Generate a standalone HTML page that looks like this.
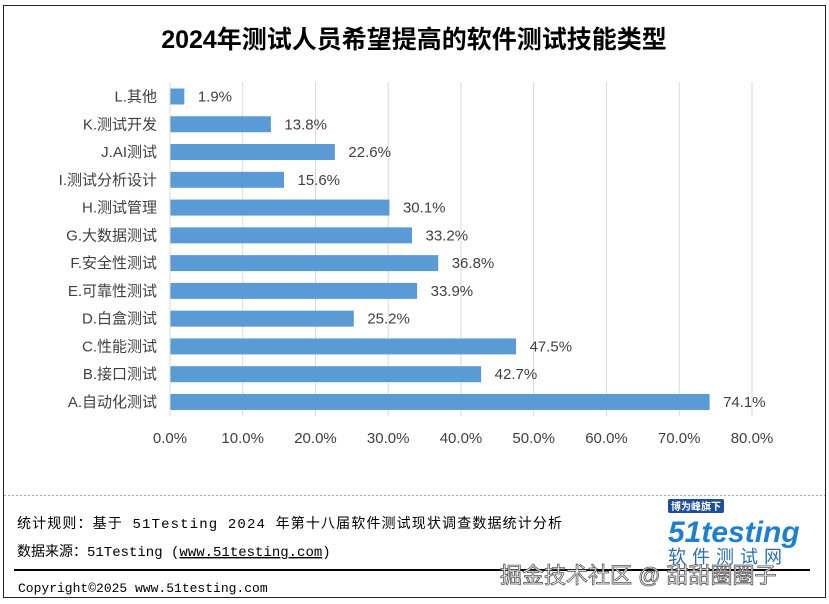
<!DOCTYPE html>
<html><head><meta charset="utf-8"><style>
body{margin:0;background:#fff;}
svg{display:block;}
text{font-family:"Liberation Sans","Noto Sans CJK SC",sans-serif;}
text.m{font-family:"Liberation Mono","Noto Sans CJK SC",monospace;}
</style></head><body>
<svg width="829" height="604" xmlns="http://www.w3.org/2000/svg">
<rect x="3.5" y="5.5" width="822" height="592" fill="#fff" stroke="#222" stroke-width="1"/>
<text x="414" y="48" text-anchor="middle" font-size="25" font-weight="bold" fill="#000">2024年测试人员希望提高的软件测试技能类型</text>
<g stroke="#d9d9d9" stroke-width="1">
<line x1="242.7" y1="82" x2="242.7" y2="416"/><line x1="315.5" y1="82" x2="315.5" y2="416"/>
<line x1="388.2" y1="82" x2="388.2" y2="416"/><line x1="461" y1="82" x2="461" y2="416"/>
<line x1="533.7" y1="82" x2="533.7" y2="416"/><line x1="606.5" y1="82" x2="606.5" y2="416"/>
<line x1="679.2" y1="82" x2="679.2" y2="416"/><line x1="752" y1="82" x2="752" y2="416"/>
</g>
<line x1="170" y1="82" x2="170" y2="416" stroke="#d9d9d9"/>
<g fill="#5b9bd5" id="bars"></g>
<g font-size="15" fill="#404040" id="lbl"></g>
<g font-size="15" fill="#404040" text-anchor="middle">
<text x="170" y="443">0.0%</text><text x="242.7" y="443">10.0%</text><text x="315.5" y="443">20.0%</text><text x="388.2" y="443">30.0%</text><text x="461" y="443">40.0%</text><text x="533.7" y="443">50.0%</text><text x="606.5" y="443">60.0%</text><text x="679.2" y="443">70.0%</text><text x="752" y="443">80.0%</text>
</g>
<line x1="4" y1="495.5" x2="825" y2="495.5" stroke="#aaa" stroke-dasharray="2,2"/>
<text class="m" x="17" y="528" font-size="14" fill="#000" textLength="545">统计规则：基于 51Testing 2024 年第十八届软件测试现状调查数据统计分析</text>
<text class="m" x="17" y="556" font-size="14" fill="#000">数据来源：51Testing (<tspan text-decoration="underline">www.51testing.com</tspan>)</text>
<line x1="14" y1="570" x2="810" y2="570" stroke="#000" stroke-width="2"/>
<text class="m" x="18" y="592" font-size="13" fill="#000">Copyright©2025 www.51testing.com</text>
<rect x="668" y="499" width="56" height="14" rx="2" fill="#1f4e9a"/>
<text x="696" y="510" font-size="10" fill="#fff" text-anchor="middle" font-weight="bold">博为峰旗下</text>
<text x="668" y="542" font-size="30" font-weight="bold" font-style="italic" fill="#1e7fd0">51testing</text>
<text x="668" y="563" font-size="18" fill="#2a6db5" letter-spacing="6">软件测试网</text>
<text x="500" y="583" font-size="22" fill="#fff" stroke="#555" stroke-width="0.8">掘金技术社区 @ 甜甜圈圈子</text>
</svg>
<script>
var d=[["L.其他",1.9],["K.测试开发",13.8],["J.AI测试",22.6],["I.测试分析设计",15.6],["H.测试管理",30.1],["G.大数据测试",33.2],["F.安全性测试",36.8],["E.可靠性测试",33.9],["D.白盒测试",25.2],["C.性能测试",47.5],["B.接口测试",42.7],["A.自动化测试",74.1]];
var b=document.getElementById('bars'),l=document.getElementById('lbl'),ns="http://www.w3.org/2000/svg";
d.forEach(function(r,i){var cy=96.5+i*27.77,w=r[1]*7.275;
var re=document.createElementNS(ns,'rect');re.setAttribute('x',170.5);re.setAttribute('y',cy-8);re.setAttribute('width',w);re.setAttribute('height',16);b.appendChild(re);
var t=document.createElementNS(ns,'text');t.setAttribute('x',157);t.setAttribute('y',cy+5);t.setAttribute('text-anchor','end');t.textContent=r[0];l.appendChild(t);
var v=document.createElementNS(ns,'text');v.setAttribute('x',170+w+14);v.setAttribute('y',cy+5);v.textContent=r[1].toFixed(1)+'%';l.appendChild(v);});
</script>
</body></html>
